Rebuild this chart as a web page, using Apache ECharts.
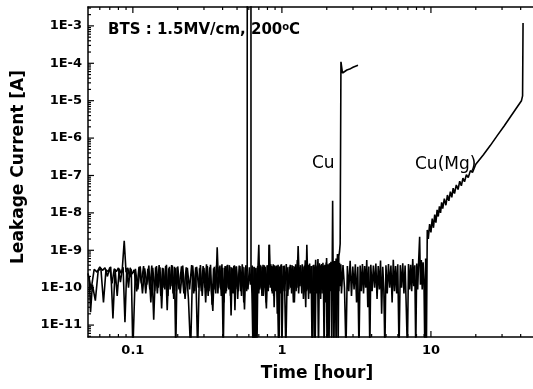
<!DOCTYPE html>
<html><head><meta charset="utf-8">
<script src="https://cdn.jsdelivr.net/npm/echarts@6/dist/echarts.min.js"></script>
<style>html,body{margin:0;padding:0;background:#fff}#c{width:533px;height:389px}</style>
</head><body><div id="c"></div>
<script>
// ---- axis ticks / labels ----
const xMajorTicks = [0.1, 1, 10];
const xMajorLabels = ['0.1', '1', '10'];
const xMinorTicks = [0.06, 0.07, 0.08, 0.09, 0.2, 0.3, 0.4, 0.5, 0.6, 0.7, 0.8, 0.9,
  2, 3, 4, 5, 6, 7, 8, 9, 20, 30, 40];
const yMajorTicks = [1e-11, 1e-10, 1e-9, 1e-8, 1e-7, 1e-6, 1e-5, 1e-4, 1e-3];
const yMajorLabels = ['1E-11', '1E-10', '1E-9', '1E-8', '1E-7', '1E-6', '1E-5', '1E-4', '1E-3'];
const yMinorMantissas = [2, 3, 4, 5, 6, 7, 8, 9];
const yDecades = [1e-12, 1e-11, 1e-10, 1e-9, 1e-8, 1e-7, 1e-6, 1e-5, 1e-4, 1e-3];

// ---- series: [time (hour), leakage current (A)] ----
const cuData = [
  [0.0500,2.4e-10],[0.0525,9e-11],[0.0550,3.1e-10],[0.0575,2.6e-10],[0.0600,3.6e-10],[0.0625,2.9e-10],
  [0.0650,3.4e-10],[0.0675,2.0e-10],[0.0700,3.5e-10],[0.0725,1.3e-10],[0.0750,3.2e-10],[0.0775,2.7e-10],
  [0.0800,3.4e-10],[0.0825,1.4e-10],[0.0850,3.3e-10],[0.0875,1.8e-9],[0.0900,2.6e-10],[0.0925,3.4e-10],
  [0.0950,1.9e-10],[0.0975,3.1e-10],[0.1000,2e-12],
  [0.104,3.2e-10],[0.108,9e-11],[0.112,3.7e-10],[0.116,7e-11],[0.120,3.3e-10],[0.124,1.2e-10],
  [0.128,3.9e-10],[0.132,4e-11],[0.136,3.4e-10],[0.140,8e-11],[0.144,3.8e-10],[0.148,1.0e-10],
  [0.152,3.5e-10],[0.156,2.8e-11],[0.160,3.3e-10],[0.164,9e-11],[0.168,4.1e-10],[0.172,6e-11],
  [0.176,3.6e-10],[0.180,1.1e-10],[0.184,3.9e-10],[0.188,5e-11],[0.192,3.4e-10],[0.196,8e-11],
  [0.200,3.7e-10],
  [0.208,7e-11],[0.216,3.9e-10],[0.224,5e-11],[0.232,3.4e-10],[0.240,9e-11],[0.248,4.0e-10],
  [0.256,7e-11],[0.264,3.5e-10],[0.272,2e-12],[0.280,3.3e-10],[0.288,8e-11],[0.296,3.8e-10],
  [0.304,1.0e-10],[0.312,4.2e-10],[0.320,6e-11],[0.328,3.5e-10],[0.336,9e-11],[0.344,2.4e-11],
  [0.352,3.6e-10],[0.360,7e-11],[0.368,1.2e-9],[0.376,1.0e-10],[0.384,3.9e-10],[0.392,6e-11],
  [0.400,3.4e-10],[0.408,4e-11],[0.416,3.8e-10],[0.424,8e-11],[0.432,4.1e-10],[0.440,9e-11],
  [0.448,3.6e-10],[0.456,1.8e-11],[0.464,3.3e-10],[0.472,7e-11],[0.480,4.0e-10],[0.488,9e-11],
  [0.496,3.7e-10],
  [0.505,5e-11],[0.517,3.9e-10],[0.530,8e-11],[0.542,4.2e-10],[0.555,4e-11],[0.567,3.5e-10],
  [0.580,8e-11],[0.585,3.0e-10],[0.5855,1e-1],[0.6200,1e-1],[0.6205,2.8e-10],[0.630,7e-11],
  [0.640,2e-12],[0.650,3.6e-10],[0.660,2e-12],[0.670,3.4e-10],[0.680,2e-12],[0.690,3.0e-10],
  [0.700,1.4e-9],[0.710,9e-11],[0.722,3.9e-10],[0.735,6e-11],[0.747,4.1e-10],[0.760,1.0e-10],
  [0.772,3.6e-10],[0.785,4e-11],[0.797,4.0e-10],[0.810,8e-11],[0.825,1.4e-9],[0.837,1.0e-10],
  [0.850,3.8e-10],[0.862,7e-11],[0.875,4.2e-10],[0.887,3e-11],[0.900,3.5e-10],[0.912,8e-11],
  [0.925,3.9e-10],[0.937,7e-11],[0.950,2e-12],[0.962,3.7e-10],[0.975,9e-11],[0.987,4.1e-10],
  [1.000,2e-12],
  [1.02,3.8e-10],[1.045,8e-11],[1.07,4.3e-10],[1.095,6e-11],[1.12,3.6e-10],[1.145,1.0e-10],
  [1.17,4.0e-10],[1.195,4e-11],[1.22,3.7e-10],[1.245,8e-11],[1.27,5.5e-10],[1.295,7e-11],
  [1.32,3.5e-10],[1.345,1.1e-10],[1.37,4.2e-10],[1.395,5e-11],[1.42,3.9e-10],[1.445,3e-11],
  [1.47,1.4e-9],[1.495,9e-11],[1.52,4.1e-10],[1.545,7e-11],[1.57,3.8e-10],[1.595,2e-12],
  [1.62,4.0e-10],[1.645,8e-11],[1.67,2e-12],[1.695,3.6e-10],[1.72,1.0e-10],[1.745,5.8e-10],
  [1.77,7e-11],[1.795,3.9e-10],[1.82,5e-11],[1.845,4.3e-10],[1.87,9e-11],[1.895,3.7e-10],
  [1.92,2e-12],[1.945,4.1e-10],[1.97,8e-11],[1.995,6.2e-10],[2.02,7e-11],[2.045,3.9e-10],
  [2.07,2e-12],[2.095,4.4e-10],[2.12,1.0e-10],[2.145,4.8e-10],[2.17,8e-11],[2.19,2.1e-8],
  [2.21,1.2e-10],[2.235,2e-12],[2.26,5.2e-10],[2.285,1.1e-10],[2.31,6.0e-10],[2.335,1.5e-10],
  [2.36,8e-10],[2.385,2e-12],[2.41,7e-10],[2.435,9e-10],[2.46,1.5e-9],[2.49,1.1e-4],
  [2.55,5.5e-5],[2.62,6.0e-5],[2.73,6.6e-5],[2.85,7.0e-5],[3.00,7.8e-5],[3.24,8.8e-5]
];

const cuMgData = [
  [0.0510,2.0e-10],[0.0520,2.2e-11],[0.0535,1.2e-10],[0.0560,4.5e-11],[0.0585,2.8e-10],[0.0610,3.3e-10],
  [0.0635,4e-11],[0.0660,3.0e-10],[0.0685,2.7e-10],[0.0710,3.6e-10],[0.0735,1.5e-11],[0.0760,3.1e-10],
  [0.0785,6e-11],[0.0810,3.2e-10],[0.0835,2.4e-10],[0.0860,3.5e-10],[0.0885,1.2e-11],[0.0910,3.3e-10],
  [0.0935,1.0e-10],[0.0960,3.4e-10],[0.0985,2.3e-10],
  [0.102,3.0e-10],[0.106,8e-11],[0.110,3.6e-10],[0.114,1.3e-10],[0.118,3.8e-10],[0.122,7e-11],
  [0.126,3.2e-10],[0.130,9e-11],[0.134,3.9e-10],[0.138,1.4e-11],[0.142,3.5e-10],[0.146,7e-11],
  [0.150,4.0e-10],[0.154,6e-11],[0.158,3.4e-10],[0.162,1.0e-10],[0.166,3.8e-10],[0.170,2.5e-11],
  [0.174,3.3e-10],[0.178,9e-11],[0.182,4.0e-10],[0.186,7e-11],[0.190,3.6e-10],[0.194,2e-12],
  [0.198,3.5e-10],
  [0.204,9e-11],[0.212,3.7e-10],[0.220,7e-11],[0.228,3.5e-10],[0.236,5e-11],[0.244,2e-12],
  [0.252,3.9e-10],[0.260,8e-11],[0.268,3.6e-10],[0.276,1.0e-10],[0.284,4.0e-10],[0.292,6e-11],
  [0.300,3.4e-10],[0.308,4e-11],[0.316,3.8e-10],[0.324,8e-11],[0.332,4.1e-10],[0.340,3.5e-11],
  [0.348,3.3e-10],[0.356,9e-11],[0.364,3.9e-10],[0.372,7e-11],[0.380,3.6e-10],[0.388,9e-11],
  [0.396,4.2e-10],[0.404,2e-12],[0.412,3.4e-10],[0.420,7e-11],[0.428,3.9e-10],[0.436,1.0e-10],
  [0.444,4.0e-10],[0.452,6e-11],[0.460,3.5e-10],[0.468,8e-11],[0.476,3.8e-10],[0.484,2.5e-11],
  [0.492,3.7e-10],
  [0.511,8e-11],[0.523,3.8e-10],[0.536,6e-11],[0.548,3.6e-10],[0.561,2.6e-11],[0.573,4.0e-10],
  [0.592,9e-11],[0.605,3.5e-10],[0.615,1.2e-10],[0.632,3.9e-10],[0.645,2e-12],[0.652,3.5e-10],
  [0.658,2e-12],[0.664,3.3e-10],[0.676,9e-11],[0.688,3.8e-10],[0.700,7e-11],[0.712,4.1e-10],
  [0.725,1.0e-10],[0.737,3.6e-10],[0.750,6e-11],[0.762,4.0e-10],[0.775,8e-11],[0.787,2.8e-11],
  [0.800,3.9e-10],[0.812,1.0e-10],[0.820,1.4e-9],[0.830,1.2e-10],[0.843,4.2e-10],[0.856,8e-11],
  [0.868,3.7e-10],[0.881,6e-11],[0.893,4.0e-10],[0.906,9e-11],[0.918,3.8e-10],[0.931,2e-11],
  [0.943,4.1e-10],[0.956,2e-12],[0.968,3.6e-10],[0.981,7e-11],[0.993,4.2e-10],
  [1.0125,8e-11],[1.0375,3.9e-10],[1.0625,2e-12],[1.0875,3.5e-10],[1.1125,9e-11],[1.1375,4.1e-10],
  [1.1625,7e-11],[1.1875,3.8e-10],[1.2125,4e-11],[1.2375,4.2e-10],[1.2625,1.0e-10],[1.285,1.3e-9],
  [1.31,1.1e-10],[1.335,4.0e-10],[1.36,7e-11],[1.385,3.7e-10],[1.41,9e-11],[1.435,5.4e-10],
  [1.46,8e-11],[1.485,3.9e-10],[1.51,5e-11],[1.535,4.4e-10],[1.56,1.0e-10],[1.585,3.8e-10],
  [1.61,2e-12],[1.635,4.1e-10],[1.66,8e-11],[1.685,5.6e-10],[1.71,7e-11],[1.735,3.9e-10],
  [1.76,2e-12],[1.785,4.5e-10],[1.81,1.0e-10],[1.835,4.0e-10],[1.86,7e-11],[1.885,4.6e-10],
  [1.91,9e-11],[1.935,3.9e-10],[1.96,4e-11],[1.985,4.7e-10],[2.01,2e-12],[2.035,4.2e-10],
  [2.06,1.0e-10],[2.085,4.5e-10],[2.11,8e-11],[2.135,4.9e-10],[2.16,2e-12],[2.185,4.3e-10],
  [2.21,1.1e-10],[2.235,4.6e-10],[2.26,7e-11],[2.285,4.1e-10],[2.31,2e-12],[2.335,4.4e-10],
  [2.36,9e-11],[2.385,4.0e-10],[2.41,8e-11],[2.435,4.6e-10],[2.46,1.1e-10],[2.485,4.2e-10],
  [2.51,7e-11],[2.57,4.0e-10],[2.63,1.0e-10],[2.69,2e-12],[2.75,3.8e-10],[2.81,8e-11],
  [2.87,5.2e-10],[2.93,6e-11],[2.99,3.7e-10],[3.05,9e-11],[3.11,4.2e-10],[3.17,4e-11],
  [3.23,3.6e-10],[3.29,2e-12],[3.35,3.9e-10],[3.41,8e-11],[3.47,4.3e-10],[3.53,7e-11],
  [3.59,3.8e-10],[3.65,1.0e-10],[3.71,5.5e-10],[3.77,3e-11],[3.83,3.7e-10],[3.89,2e-12],
  [3.95,4.1e-10],[4.03,8e-11],[4.11,3.9e-10],[4.19,1.0e-10],[4.27,4.4e-10],[4.35,5e-11],
  [4.43,3.8e-10],[4.51,9e-11],[4.59,5.3e-10],[4.67,2e-11],[4.75,3.6e-10],[4.83,9e-11],
  [4.91,2e-12],[4.99,4.0e-10],[5.09,7e-11],[5.19,4.3e-10],[5.29,1.0e-10],[5.39,3.9e-10],
  [5.49,4e-11],[5.59,5.6e-10],[5.69,8e-11],[5.79,3.8e-10],[5.89,7e-11],[5.99,4.2e-10],
  [6.11,2e-12],[6.23,4.0e-10],[6.35,1.0e-10],[6.47,4.5e-10],[6.59,7e-11],[6.71,3.9e-10],
  [6.83,3e-11],[6.95,2e-12],[7.07,4.3e-10],[7.19,9e-11],[7.31,4.1e-10],[7.43,8e-11],
  [7.55,5.8e-10],[7.67,1.1e-10],[7.79,4.0e-10],[7.91,2e-12],[8.03,4.4e-10],[8.15,9e-11],
  [8.27,5.0e-10],[8.40,2.3e-9],[8.50,1.2e-10],[8.62,5.5e-10],[8.74,9e-11],[8.86,4.8e-10],
  [8.98,1.5e-10],[9.10,2e-12],[9.22,6.0e-10],[9.32,2e-12],
  [9.45,3.5e-9],[9.6,2.0e-9],[9.8,5.0e-9],[10.0,3.0e-9],[10.2,7.0e-9],[10.4,4.0e-9],
  [10.6,9.0e-9],[10.8,5.5e-9],[11.0,1.2e-8],[11.2,8.0e-9],[11.4,1.5e-8],[11.6,1.0e-8],
  [11.8,1.9e-8],[12.0,1.3e-8],[12.3,2.4e-8],[12.6,1.6e-8],[12.9,3.0e-8],[13.2,2.1e-8],
  [13.5,3.7e-8],[13.8,2.6e-8],[14.1,4.6e-8],[14.4,3.3e-8],[14.8,5.6e-8],[15.2,4.2e-8],
  [15.6,7.0e-8],[16.0,5.3e-8],[16.4,8.5e-8],[16.8,6.8e-8],[17.3,1.05e-7],[17.8,8.8e-8],
  [18.4,1.35e-7],[19.0,1.2e-7],[20.0,2.0e-7],[22.5,3.6e-7],[25.0,6.3e-7],[28.0,1.2e-6],
  [31.0,2.1e-6],[34.0,3.6e-6],[37.0,5.9e-6],[40.5,1.0e-5],[41.2,1.35e-5],[41.5,1.2e-3]
];

// ---- layout ----
const X_MIN = 0.05, X_MAX = 48.4, Y_MIN = 4.8e-12, Y_MAX = 3.2e-3;
const FONT = '"DejaVu Sans", "Liberation Sans", Arial, sans-serif';

const yMinorTicks = [];
yDecades.forEach(d => yMinorMantissas.forEach(m => {
  const v = m * d;
  if (v > Y_MIN && v < Y_MAX) yMinorTicks.push(v);
}));

// tick marks placed through the axes' own scales (api.coord)
const tickMarks = [];
xMajorTicks.forEach(v => { tickMarks.push([v, Y_MIN, 0, 6]); tickMarks.push([v, Y_MAX, 1, 6]); });
xMinorTicks.forEach(v => { tickMarks.push([v, Y_MIN, 0, 3]); tickMarks.push([v, Y_MAX, 1, 3]); });
yMajorTicks.forEach(v => { tickMarks.push([X_MIN, v, 2, 6]); });
yMinorTicks.forEach(v => { tickMarks.push([X_MIN, v, 2, 3]); });

function labelFor(ticks, labels) {
  return v => {
    for (let i = 0; i < ticks.length; i++) {
      if (Math.abs(Math.log10(v) - Math.log10(ticks[i])) < 1e-6) return labels[i];
    }
    return '';
  };
}

const lineC = { color: '#000', width: 1.5 };

function xAxisDef(pos, showLabel) {
  return {
    type: 'log', logBase: 10, min: X_MIN, max: X_MAX, position: pos, gridIndex: 0,
    splitLine: { show: false }, minorTick: { show: false },
    axisLine: { show: true, onZero: false, lineStyle: lineC },
    axisTick: { show: false },
    axisLabel: { show: showLabel, customValues: xMajorTicks, formatter: labelFor(xMajorTicks, xMajorLabels),
      margin: 7, fontFamily: FONT, fontWeight: 'bold', fontSize: 13, color: '#000' }
  };
}

const chart = echarts.init(document.getElementById('c'), null, { renderer: 'canvas' });
chart.setOption({
  animation: false,
  backgroundColor: '#fff',
  grid: { left: 88, top: 7, right: 0, bottom: 52, containLabel: false },
  xAxis: [ xAxisDef('bottom', true), xAxisDef('top', false) ],
  yAxis: [{
    type: 'log', logBase: 10, min: Y_MIN, max: Y_MAX, position: 'left', gridIndex: 0,
    splitLine: { show: false }, minorTick: { show: false },
    axisLine: { show: true, onZero: false, lineStyle: lineC },
    axisTick: { show: false },
    axisLabel: { show: true, customValues: yMajorTicks, formatter: labelFor(yMajorTicks, yMajorLabels),
      margin: 6, fontFamily: FONT, fontWeight: 'bold', fontSize: 13, color: '#000' }
  }],
  series: [
    { type: 'line', name: 'Cu', data: cuData, xAxisIndex: 0, yAxisIndex: 0,
      showSymbol: false, symbol: 'none', clip: true,
      lineStyle: { color: '#000', width: 1.6 } },
    { type: 'line', name: 'Cu(Mg)', data: cuMgData, xAxisIndex: 0, yAxisIndex: 0,
      showSymbol: false, symbol: 'none', clip: true,
      lineStyle: { color: '#000', width: 1.6 } },
    { type: 'custom', name: 'ticks', data: tickMarks, xAxisIndex: 0, yAxisIndex: 0,
      silent: true, clip: false, z: 5,
      encode: { x: 0, y: 1 },
      renderItem: (params, api) => {
        const p = api.coord([api.value(0), api.value(1)]);
        const kind = api.value(2), len = api.value(3);
        let x2 = p[0], y2 = p[1];
        if (kind === 0) y2 -= len; else if (kind === 1) y2 += len; else x2 += len;
        return { type: 'line', shape: { x1: p[0], y1: p[1], x2: x2, y2: y2 },
          style: { stroke: '#000', lineWidth: 1.2 } };
      } }
  ],
  graphic: [
    { type: 'text', x: 108, y: 30, z: 10,
      style: { text: 'BTS : 1.5MV/cm, 200{s|o}C', fontFamily: FONT, fontWeight: 'bold', fontSize: 15,
        fill: '#000', align: 'left', verticalAlign: 'middle',
        rich: { s: { fontFamily: FONT, fontWeight: 'bold', fontSize: 10, verticalAlign: 'top', fill: '#000' } } } },
    { type: 'text', x: 312, y: 164, z: 10,
      style: { text: 'Cu', fontFamily: FONT, fontSize: 17, fill: '#000', align: 'left', verticalAlign: 'middle' } },
    { type: 'text', x: 415, y: 165, z: 10,
      style: { text: 'Cu(Mg)', fontFamily: FONT, fontSize: 17, fill: '#000', align: 'left', verticalAlign: 'middle' } },
    { type: 'text', x: 317, y: 374, z: 10,
      style: { text: 'Time [hour]', fontFamily: FONT, fontWeight: 'bold', fontSize: 17, fill: '#000',
        align: 'center', verticalAlign: 'middle' } },
    { type: 'text', x: 19, y: 167, rotation: Math.PI / 2, z: 10,
      style: { text: 'Leakage Current [A]', fontFamily: FONT, fontWeight: 'bold', fontSize: 17, fill: '#000',
        align: 'center', verticalAlign: 'middle' } }
  ]
});
</script>
</body></html>
